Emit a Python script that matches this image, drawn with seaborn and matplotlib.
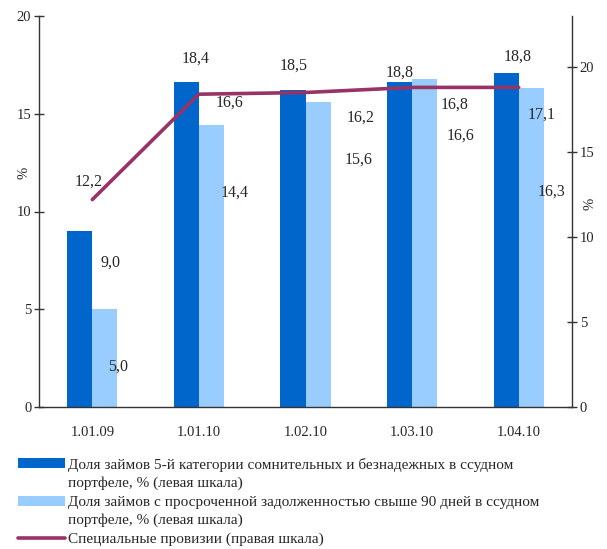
import pandas as pd
import seaborn as sns
import matplotlib.pyplot as plt
from matplotlib.patches import Rectangle
from matplotlib.lines import Line2D

# Data
dates = ["1.01.09", "1.01.10", "1.02.10", "1.03.10", "1.04.10"]
doubtful_share = [9.0, 16.6, 16.2, 16.6, 17.1]      # 5th category, left scale
overdue_share = [5.0, 14.4, 15.6, 16.8, 16.3]       # overdue > 90 days, left scale
provisions = [12.2, 18.4, 18.5, 18.8, 18.8]         # special provisions, right scale

labels = [
    "Доля займов 5-й категории сомнительных и безнадежных в ссудном\nпортфеле, % (левая шкала)",
    "Доля займов с просроченной задолженностью свыше 90 дней в ссудном\nпортфеле, % (левая шкала)",
    "Специальные провизии (правая шкала)",
]
colors = ["#0066CC", "#99CCFF", "#993366"]

# label offsets in pixels (as in the original, labels sit away from the marks)
off_line = [(-4, 18), (-3, 36), (-12, 27), (-12, 15), (-1, 31)]
off_dark = [(18, -32), (31, -20), (55, -27), (48, -53), (23, -42)]
off_light = [(26, -57), (36, -67), (53, -58), (42, -26), (33, -103)]

df = pd.DataFrame({
    "date": dates * 2,
    "value": doubtful_share + overdue_share,
    "series": ["dark"] * len(dates) + ["light"] * len(dates),
})

sns.set_style("white")
plt.rcParams["font.family"] = ["Liberation Serif", "DejaVu Serif"]

fig = plt.figure(figsize=(6.07, 5.49), dpi=100)
ax = fig.add_axes([39 / 607, 1 - 407 / 549, 533 / 607, 391 / 549])

sns.barplot(data=df, x="date", y="value", hue="series", palette=colors[:2],
            width=0.47, errorbar=None, legend=False, ax=ax, linewidth=0,
            saturation=1)

ax2 = ax.twinx()
pos = list(range(len(dates)))
sns.lineplot(x=pos, y=provisions, color=colors[2], linewidth=2.6, ax=ax2)

ax.set_xlim(-0.5, len(dates) - 0.5)
ax.set_ylim(0, 20)
ax.set_yticks([0, 5, 10, 15, 20])
ax2.set_ylim(0, 23)
ax2.set_yticks([0, 5, 10, 15, 20])

# category boundaries get ticks, labels sit in the middle
ax.set_xticks(pos)
ax.set_xticklabels(dates)
ax.set_xticks([p - 0.5 for p in pos] + [len(dates) - 0.5], minor=True)
ax.tick_params(axis="x", which="major", length=0, pad=14, labelsize=10.5)
ax.tick_params(axis="x", which="minor", direction="inout", length=7, width=1, color="#333333")
ax.tick_params(axis="y", direction="inout", length=7, width=1, color="#333333", pad=2, labelsize=10.5, left=True)
ax2.tick_params(axis="y", direction="inout", length=7, width=1, color="#333333", pad=2, labelsize=10.5, right=True)

ax.set_xlabel("")
ax.set_ylabel("%", fontsize=10.5)
ax2.set_ylabel("%", fontsize=10.5)
ax.yaxis.set_label_coords(-0.016, 0.60)
ax2.yaxis.set_label_coords(1.021, 0.52)

for a in (ax, ax2):
    a.spines["top"].set_visible(False)
    for s in ("left", "right", "bottom"):
        a.spines[s].set_color("#333333")
        a.spines[s].set_linewidth(1)
ax.spines["right"].set_visible(False)
ax2.spines["left"].set_visible(False)
ax2.spines["bottom"].set_visible(False)

# data labels
for i in pos:
    ax2.annotate(f"{provisions[i]:.1f}".replace(".", ","), (i, provisions[i]),
                 xytext=off_line[i], textcoords="offset pixels",
                 ha="center", va="center", fontsize=11.5)
    ax.annotate(f"{doubtful_share[i]:.1f}".replace(".", ","), (i, doubtful_share[i]),
                xytext=off_dark[i], textcoords="offset pixels",
                ha="center", va="center", fontsize=11.5)
    ax.annotate(f"{overdue_share[i]:.1f}".replace(".", ","), (i, overdue_share[i]),
                xytext=off_light[i], textcoords="offset pixels",
                ha="center", va="center", fontsize=11.5)

# legend below the plot
W, H = 607, 549
rows = [463, 501, 538]
for k, (lab, col) in enumerate(zip(labels, colors)):
    y = rows[k]
    if k < 2:
        fig.add_artist(Rectangle((18 / W, 1 - (y + 5) / H), 47 / W, 10 / H,
                                 transform=fig.transFigure, color=col, lw=0))
    else:
        fig.add_artist(Line2D([18 / W, 65 / W], [1 - y / H] * 2,
                              transform=fig.transFigure, color=col, lw=2.6))
    fig.text(68 / W, 1 - (y - 5) / H, lab, ha="left", va="top", fontsize=11,
             linespacing=1.42)

fig.savefig("out.png", dpi=100)
